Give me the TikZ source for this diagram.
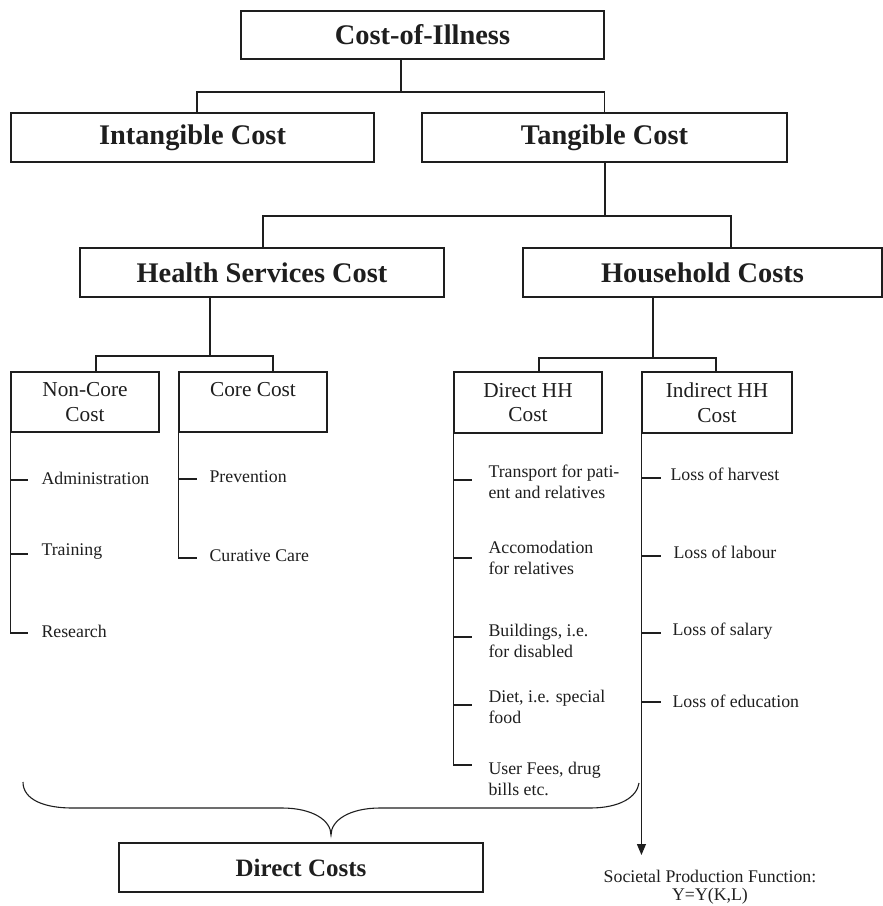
\documentclass[tikz,border=0pt]{standalone}
\usepackage{fontspec}
\setmainfont{Liberation Serif}
\usetikzlibrary{arrows.meta}
\definecolor{ink}{RGB}{30,30,30}
\begin{document}
\begin{tikzpicture}[x=1pt,y=-1pt, line width=1.1pt, draw=ink, text=ink,
  big/.style={draw=ink, inner sep=0, font=\fontsize{28.4}{32}\selectfont\bfseries},
  mid/.style={draw=ink, inner sep=0, align=center, minimum width=148pt, minimum height=60pt, font=\fontsize{21.3}{24.5}\selectfont},
  item/.style={inner sep=0, anchor=west, align=left, font=\fontsize{17.8}{20.5}\selectfont},
  small/.style={inner sep=0, anchor=base, font=\fontsize{17.8}{20.5}\selectfont}]
\useasboundingbox (0,0) rectangle (883,906);
% boxes
\node[big, minimum width=363pt, minimum height=48pt] (coi) at (422.5,35) {Cost-of-Illness};
\node[big, minimum width=363pt, minimum height=49pt] (intang) at (192.5,137.5) {Intangible Cost};
\node[big, minimum width=365pt, minimum height=49pt] (tang) at (604.5,137.5) {Tangible Cost};
\node[big, minimum width=364pt, minimum height=49pt] (hsc) at (262,272.5) {Health Services Cost};
\node[big, minimum width=359pt, minimum height=49pt] (hhc) at (702.5,272.5) {Household Costs};
\node[mid] (noncore) at (85,402) {Non-Core\\Cost};
\node[mid] (core) at (253,402) {Core Cost\\\mbox{}};
\node[mid, minimum height=61pt] (dhh) at (528,402.5) {Direct HH\\Cost};
\node[mid, minimum width=150pt, minimum height=61pt] (ihh) at (717,402.5) {Indirect HH\\Cost};
\node[big, minimum width=364pt, minimum height=49pt, font=\fontsize{25}{28}\selectfont\bfseries] (direct) at (301,867.5) {Direct Costs};
% junctions
\coordinate (a1) at (401,92); \coordinate (a2) at (197,92);
\coordinate (b1) at (605,216); \coordinate (b2) at (263,216); \coordinate (b3) at (731,216);
\coordinate (c1) at (210,356); \coordinate (c2) at (96,356); \coordinate (c3) at (273,356);
\coordinate (d1) at (653,358); \coordinate (d2) at (539,358); \coordinate (d3) at (716,358);
\draw (coi.south -| a1) -- (a1);
\draw (intang.north -| a2) -- (a2) -| (tang.north);
\draw (tang.south -| b1) -- (b1);
\draw (hsc.north -| b2) -- (b2) -- (b3) -- (hhc.north -| b3);
\draw (hsc.south -| c1) -- (c1);
\draw (noncore.north -| c2) -- (c2) -- (c3) -- (core.north -| c3);
\draw (hhc.south -| d1) -- (d1);
\draw (dhh.north -| d2) -- (d2) -- (d3) -- (ihh.north -| d3);
% items
\node[item] (adm) at (41,478) {Administration};
\node[item] (trn) at (41,552) {Training};
\node[item] (res) at (41,631) {Research};
\node[item] (prev) at (209,477) {Prevention};
\node[item] (cur) at (209,556) {Curative Care};
\node[item] (trans) at (488,482) {Transport for pati-\\ent and relatives};
\node[item] (acc) at (488,558) {Accomodation\\for relatives};
\node[item] (bld) at (488,641) {Buildings, i.e.\\for disabled};
\node[item] (diet) at (488,707) {Diet, i.e. special\\food};
\node[item] (fees) at (488,779) {User Fees, drug\\bills etc.};
\node[item] (harv) at (670,474) {Loss of harvest};
\node[item] (lab) at (673,552) {Loss of labour};
\node[item] (sal) at (672,631) {Loss of salary};
\node[item] (edu) at (672,701) {Loss of education};
% spines and ticks
\draw (noncore.south west) |- ([xshift=-13pt,yshift=-2pt]res.west);
\draw (noncore.south west |- 0,480) -- ([xshift=-13pt]adm.west |- 0,480);
\draw (noncore.south west |- 0,554) -- ([xshift=-13pt]trn.west |- 0,554);
\draw (core.south west) |- ([xshift=-12pt,yshift=-2pt]cur.west);
\draw (core.south west |- 0,479) -- ([xshift=-12pt]prev.west |- 0,479);
\draw (dhh.south west) |- ([xshift=-16pt,yshift=14pt]fees.west);
\draw (dhh.south west |- 0,480) -- ([xshift=-16pt]trans.west |- 0,480);
\draw (dhh.south west |- 0,558) -- ([xshift=-16pt]acc.west |- 0,558);
\draw (dhh.south west |- 0,637) -- ([xshift=-16pt]bld.west |- 0,637);
\draw (dhh.south west |- 0,705) -- ([xshift=-16pt]diet.west |- 0,705);
\coordinate (tip) at (642,855);
\draw[-{Triangle[length=11pt,width=9pt]}] (ihh.south west) -- (ihh.south west |- tip);
\draw (ihh.south west |- 0,478) -- (661,478);
\draw (ihh.south west |- 0,556) -- (661,556);
\draw (ihh.south west |- 0,633) -- (661,633);
\draw (ihh.south west |- 0,702) -- (661,702);
% brace
\coordinate (bl) at (23,782); \coordinate (bt) at (331,835); \coordinate (br) at (639,783);
\draw (bl) .. controls (23,800) and (45,808) .. (72,808) -- (282,808)
  .. controls (312,808) and (331,820) .. (bt)
  .. controls (331,820) and (350,808) .. (380,808) -- (590,808)
  .. controls (620,808) and (637,797) .. (br);
% societal production function
\node[small] (spf) at (710,882) {Societal Production Function:};
\node[small] (spf2) at (710,900) {Y=Y(K,L)};
\end{tikzpicture}
\end{document}
